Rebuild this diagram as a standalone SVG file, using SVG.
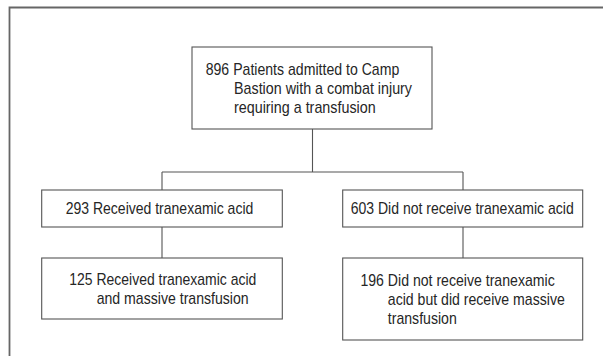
<svg xmlns="http://www.w3.org/2000/svg" width="603" height="356" viewBox="0 0 603 356">
<style>
.frame{fill:none;stroke:#666;stroke-width:1.8}
.box{fill:#fff;stroke:#555;stroke-width:1.1}
.ln{fill:none;stroke:#555;stroke-width:1.1}
text{font-family:"Liberation Sans Narrow","Arial Narrow","Liberation Sans",Arial,sans-serif;font-size:17px;fill:#262626}
</style>
<rect width="603" height="356" fill="#fff"/>
<path class="frame" d="M9.5,357 V7.5 H604"/>
<g id="connectors">
<path class="ln" d="M312.5,129 V172 M162,172 H463 M162,172 V190 M463,172 V190 M162,227 V258 M463,227 V258"/>
</g>
<g id="n896">
<rect class="box" x="192" y="47" width="240" height="82"/>
<text x="205.7" y="75" textLength="193.6" lengthAdjust="spacingAndGlyphs">896 Patients admitted to Camp</text>
<text x="234" y="94" textLength="178" lengthAdjust="spacingAndGlyphs">Bastion with a combat injury</text>
<text x="234" y="113" textLength="141.7" lengthAdjust="spacingAndGlyphs">requiring a transfusion</text>
</g>
<g id="n293">
<rect class="box" x="41.7" y="190" width="240.6" height="37"/>
<text x="65.7" y="214" textLength="187.6" lengthAdjust="spacingAndGlyphs">293 Received tranexamic acid</text>
</g>
<g id="n603">
<rect class="box" x="342.7" y="190" width="240" height="37"/>
<text x="350.7" y="214" textLength="223" lengthAdjust="spacingAndGlyphs">603 Did not receive tranexamic acid</text>
</g>
<g id="n125">
<rect class="box" x="41.7" y="258" width="240.6" height="61"/>
<text x="69.3" y="285" textLength="187" lengthAdjust="spacingAndGlyphs">125 Received tranexamic acid</text>
<text x="96.7" y="304" textLength="152" lengthAdjust="spacingAndGlyphs">and massive transfusion</text>
</g>
<g id="n196">
<rect class="box" x="342.7" y="258" width="240" height="82"/>
<text x="360.4" y="286" textLength="194.3" lengthAdjust="spacingAndGlyphs">196 Did not receive tranexamic</text>
<text x="387.8" y="305" textLength="177" lengthAdjust="spacingAndGlyphs">acid but did receive massive</text>
<text x="387.8" y="324" textLength="69" lengthAdjust="spacingAndGlyphs">transfusion</text>
</g>
</svg>
